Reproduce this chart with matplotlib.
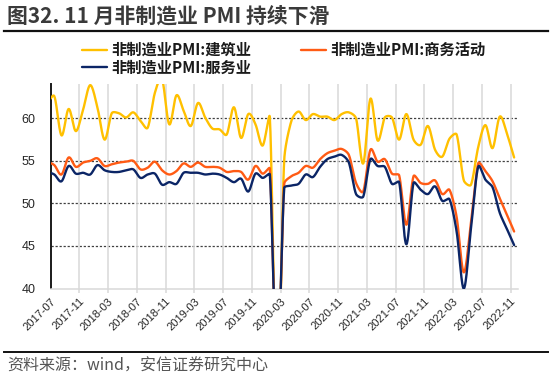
import numpy as np
import matplotlib
matplotlib.use("Agg")
import matplotlib.pyplot as plt
from matplotlib.lines import Line2D
from matplotlib.font_manager import FontProperties

plt.rcParams['lines.scale_dashes'] = False

# ---------------- data ----------------
months = [f"{y}-{m:02d}" for y in range(2017, 2023) for m in range(1, 13)]
months = months[months.index("2017-06"):months.index("2022-11") + 1]

construction = [61.6, 62.6, 58.0, 61.1, 58.5, 61.0, 63.9, 61.3, 57.5, 60.6, 60.6, 60.1,
                60.7, 59.7, 58.9, 63.0, 64.6, 59.3, 62.7, 60.9, 59.1, 61.8, 60.1, 58.8,
                58.7, 58.1, 61.3, 57.7, 60.5, 59.3, 56.8, 60.1, 26.6, 55.1, 59.7, 60.8,
                59.8, 60.5, 60.2, 60.2, 59.8, 60.5, 60.7, 60.0, 54.7, 62.3, 57.4, 60.1,
                60.1, 57.5, 60.5, 57.5, 56.9, 59.1, 56.3, 55.5, 57.6, 58.1, 52.7, 52.2,
                56.6, 59.2, 56.5, 60.2, 58.2, 55.4]
business = [54.9, 54.5, 53.4, 55.4, 54.3, 54.8, 55.0, 55.3, 54.4, 54.6, 54.8, 54.9,
            55.0, 54.0, 54.2, 54.9, 53.9, 53.4, 53.8, 54.7, 54.3, 54.8, 54.3, 54.3,
            54.2, 53.7, 53.8, 53.7, 52.8, 54.4, 53.5, 54.1, 29.6, 52.3, 53.2, 53.6,
            54.4, 54.2, 55.2, 55.9, 56.2, 56.4, 55.7, 52.4, 51.4, 56.3, 54.9, 55.2,
            53.5, 53.3, 47.5, 53.2, 52.4, 52.3, 52.7, 51.1, 51.6, 48.4, 41.9, 47.8,
            54.7, 53.8, 52.6, 50.6, 48.7, 46.7]
services = [53.7, 53.4, 52.6, 54.4, 53.5, 53.6, 53.4, 54.5, 53.9, 53.7, 53.7, 53.9,
            54.0, 53.0, 53.4, 53.5, 52.2, 52.5, 52.3, 53.6, 53.6, 53.6, 53.4, 53.5,
            53.4, 53.0, 52.5, 52.9, 51.4, 53.5, 53.0, 53.4, 30.1, 51.8, 52.1, 52.3,
            53.4, 53.1, 54.3, 55.2, 55.5, 55.7, 54.8, 51.1, 50.8, 55.2, 54.4, 54.3,
            52.3, 52.5, 45.2, 52.4, 51.6, 51.1, 52.0, 50.3, 50.5, 46.7, 40.0, 47.1,
            54.3, 52.8, 51.9, 48.9, 47.0, 45.1]

series_names = ["非制造业PMI:建筑业", "非制造业PMI:商务活动", "非制造业PMI:服务业"]
series_colors = ["#FFC000", "#FF5B14", "#0B2566"]
yticks = [40, 45, 50, 55, 60]

CJK = ['Noto Sans CJK SC', 'DejaVu Sans']


def smooth(ax, x, y, n=24):
    """Excel-like smoothed line: Bezier through the points, computed in
    display space, with control arms limited to avoid big overshoot."""
    P = ax.transData.transform(np.column_stack([x, y]).astype(float))
    E = np.vstack([P[0], P, P[-1]])
    out = []
    t = np.linspace(0, 1, n, endpoint=False)[:, None]
    for i in range(len(P) - 1):
        p0, p1, p2, p3 = E[i], E[i + 1], E[i + 2], E[i + 3]
        d12 = np.hypot(*(p2 - p1))
        t1 = p2 - p0
        t2 = p3 - p1
        n1 = np.hypot(*t1)
        n2 = np.hypot(*t2)
        c1 = p1 + (t1 / n1 * min(n1 / 6.0, d12 / 3.0) if n1 > 0 else 0)
        c2 = p2 - (t2 / n2 * min(n2 / 6.0, d12 / 3.0) if n2 > 0 else 0)
        out.append((1 - t) ** 3 * p1 + 3 * (1 - t) ** 2 * t * c1
                   + 3 * (1 - t) * t ** 2 * c2 + t ** 3 * p2)
    out.append(P[-1][None])
    S = ax.transData.inverted().transform(np.vstack(out))
    return S[:, 0], S[:, 1]


fig = plt.figure(figsize=(5.5, 3.8), dpi=100)
W, H = 550.0, 380.0
ax = fig.add_axes([50.7 / W, 1 - 288.5 / H, (517.7 - 50.7) / W, (288.5 - 84.3) / H])

x = np.arange(len(months))
ax.set_xlim(0.5, len(months) - 0.5)
ax.set_ylim(40, 64)

order = [0, 2, 1]
zorders = {0: 3, 1: 4, 2: 5}
handles = []
for k, vals in enumerate([construction, business, services]):
    sx, sy = smooth(ax, x, vals)
    ln, = ax.plot(sx, sy, color=series_colors[k], lw=1.7, zorder=zorders[k],
                  solid_capstyle='round')
    handles.append(ln)

ax.set_xlim(0.5, len(months) - 0.5)
ax.set_ylim(40, 64)

# horizontal dashed gridlines
for yv in yticks[1:]:
    ax.axhline(yv, color='#404040', lw=0.9, ls=(0, (1.6, 1.3)), zorder=1)

# x: labels at category centres every 4 months, gridlines at boundaries
lab_idx = list(range(1, len(months), 4))
ax.set_xticks(lab_idx)
ax.set_xticklabels([months[i] for i in lab_idx], rotation=45, ha='right',
                   va='center', rotation_mode='anchor',
                   fontfamily='Liberation Sans', fontsize=8, color='#262626')
ax.tick_params(axis='x', which='major', length=0, pad=8)
bounds = [i - 0.5 for i in lab_idx[1:]]
ax.set_xticks(bounds, minor=True)
ax.tick_params(axis='x', which='minor', length=3, width=1.1, color='#D9D9D9')
ax.grid(which='minor', axis='x', color='#D9D9D9', lw=1.1, zorder=0)

ax.set_yticks(yticks)
ax.set_yticklabels([str(v) for v in yticks], fontfamily='Liberation Sans',
                   fontsize=9, color='#262626')
ax.tick_params(axis='y', length=0, pad=11)

for s in ['top', 'right']:
    ax.spines[s].set_visible(False)
ax.spines['left'].set_color('#1a1a1a')
ax.spines['left'].set_linewidth(1.4)
ax.spines['bottom'].set_color('#D9D9D9')
ax.spines['bottom'].set_linewidth(1.1)

# legend
leg = fig.legend([handles[i] for i in order], [series_names[i] for i in order],
                 ncol=2, loc='upper left', bbox_to_anchor=(82.0 / W, 1 - 42.0 / H),
                 frameon=False, prop=FontProperties(family=CJK, weight='bold', size=11),
                 handlelength=1.65, handletextpad=0.3, columnspacing=3.2,
                 labelspacing=0.1, borderpad=0, borderaxespad=0)
for t in leg.get_texts():
    t.set_color('#1a1a1a')

# title and rules
fig.text(7 / W, 1 - 16 / H, "图32. 11 月非制造业 PMI 持续下滑", family=CJK,
         weight='bold', fontsize=15, color='#3a3a3a', va='center', ha='left')
fig.add_artist(Line2D([3.5 / W, 548 / W], [1 - 31 / H, 1 - 31 / H],
                      transform=fig.transFigure, color='#111111', lw=1.6))
fig.add_artist(Line2D([3.5 / W, 548 / W], [1 - 352.4 / H, 1 - 352.4 / H],
                      transform=fig.transFigure, color='#111111', lw=1.4))
fig.text(7 / W, 1 - 366 / H, "资料来源：wind，安信证券研究中心", family=CJK,
         style='italic', fontsize=11.5, color='#555555', va='center', ha='left')

fig.savefig("out.png", dpi=100)
